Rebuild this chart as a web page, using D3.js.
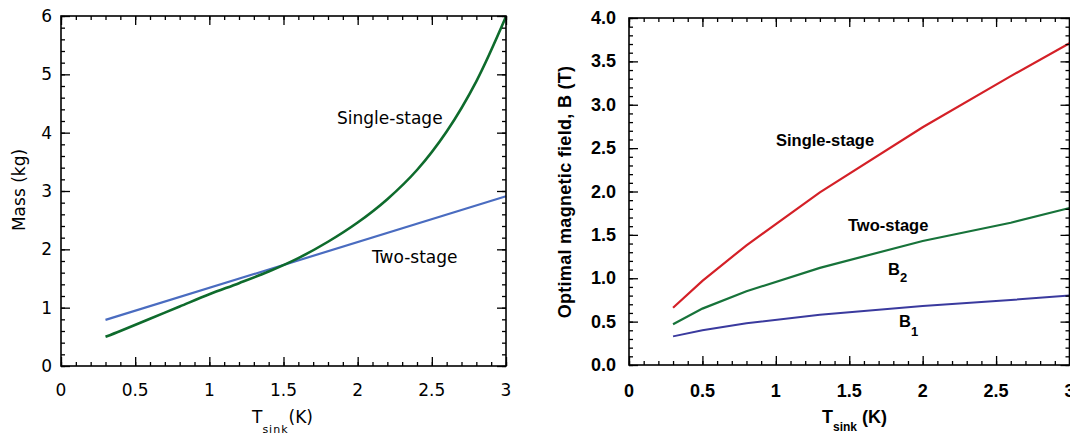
<!DOCTYPE html>
<html>
<head>
<meta charset="utf-8">
<script src="https://cdn.jsdelivr.net/npm/d3@7"></script>
<style>
  body { margin: 0; background: #fff; }
  .minor path, .major path { display: none; }
  .minor line, .major line { stroke: #000; stroke-width: 1.3; }
</style>
</head>
<body>
<svg id="chart" width="1070" height="435"></svg>
<script>
// left panel: mass vs sink temperature
var massT = [0.3, 0.4, 0.6, 0.8, 1.0, 1.2, 1.4, 1.6, 1.8, 2.0, 2.2, 2.4, 2.6, 2.8, 3.0];
var massSingle = [0.50, 0.60, 0.81, 1.02, 1.23, 1.42, 1.62, 1.85, 2.13, 2.46, 2.86, 3.36, 4.02, 4.88, 5.99];
var massTwoT = [0.3, 3.0];
var massTwo = [0.79, 2.91];

// right panel: optimal field vs sink temperature
var fieldT = [0.3, 0.5, 0.8, 1.3, 2.0, 2.6, 3.0];
var fieldSingle = [0.66, 0.97, 1.38, 1.99, 2.74, 3.33, 3.71];
var fieldB2 = [0.47, 0.65, 0.85, 1.12, 1.43, 1.64, 1.81];
var fieldB1 = [0.33, 0.40, 0.48, 0.58, 0.68, 0.75, 0.80];

var xTicks = [0, 0.5, 1, 1.5, 2, 2.5, 3];
var xTickLabels = ["0", "0.5", "1", "1.5", "2", "2.5", "3"];
var massTicks = [0, 1, 2, 3, 4, 5, 6];
var fieldTicks = [0, 0.5, 1, 1.5, 2, 2.5, 3, 3.5, 4];
var fieldTickLabels = ["0.0", "0.5", "1.0", "1.5", "2.0", "2.5", "3.0", "3.5", "4.0"];

var svg = d3.select("#chart");

function steps(lo, hi, step) {
    var out = [];
    var n = Math.round((hi - lo) / step);
    for (var i = 0; i <= n; i++) out.push(+(lo + i * step).toFixed(4));
    return out;
}

// frame with inward ticks on all four sides
function frame(g, x, y, xMinor, yMinor, xMajor, yMajor) {
    var x0 = x.range()[0], x1 = x.range()[1];
    var y0 = y.range()[0], y1 = y.range()[1];
    var defs = [
        [d3.axisBottom, x, "translate(0," + y0 + ")"],
        [d3.axisTop, x, "translate(0," + y1 + ")"],
        [d3.axisLeft, y, "translate(" + x0 + ",0)"],
        [d3.axisRight, y, "translate(" + x1 + ",0)"]
    ];
    defs.forEach(function (d) {
        var isX = d[1] === x;
        g.append("g").attr("class", "minor").attr("transform", d[2])
            .call(d[0](d[1]).tickValues(isX ? xMinor : yMinor).tickSize(-4).tickFormat(""));
        g.append("g").attr("class", "major").attr("transform", d[2])
            .call(d[0](d[1]).tickValues(isX ? xMajor : yMajor).tickSize(-9).tickFormat(""));
    });
    g.append("rect")
        .attr("x", x0).attr("y", y1)
        .attr("width", x1 - x0).attr("height", y0 - y1)
        .attr("fill", "none").attr("stroke", "#000").attr("stroke-width", 1.6);
}

function series(g, x, y, xs, ys, color, w, curve) {
    var line = d3.line()
        .x(function (d, i) { return x(xs[i]); })
        .y(function (d) { return y(d); })
        .curve(curve || d3.curveLinear);
    g.append("path").datum(ys)
        .attr("d", line)
        .attr("fill", "none")
        .attr("stroke", color)
        .attr("stroke-width", w);
}

// ---------- left panel ----------
var xL = d3.scaleLinear().domain([0, 3]).range([61, 506]);
var yL = d3.scaleLinear().domain([0, 6]).range([366, 16]);
var gL = svg.append("g")
    .style("font-family", "'DejaVu Sans', sans-serif")
    .style("font-size", "17px");

series(gL, xL, yL, massTwoT, massTwo, "#4a6cc0", 2.2);
series(gL, xL, yL, massT, massSingle, "#0e6b2c", 2.6, d3.curveCatmullRom);
frame(gL, xL, yL, steps(0, 3, 0.1), steps(0, 6, 0.2), xTicks, massTicks);

gL.selectAll(".xl").data(xTicks).enter().append("text")
    .attr("x", function (d) { return xL(d); })
    .attr("y", 396)
    .attr("text-anchor", "middle")
    .text(function (d, i) { return xTickLabels[i]; });
gL.selectAll(".yl").data(massTicks).enter().append("text")
    .attr("x", 52)
    .attr("y", function (d) { return yL(d) + 6; })
    .attr("text-anchor", "end")
    .text(function (d) { return d; });

var tl = gL.append("text").attr("x", 252).attr("y", 423).attr("fill", "#000");
tl.append("tspan").text("T");
tl.append("tspan").attr("dy", 10).style("font-size", "11px").style("letter-spacing", "1px").text("sink");
tl.append("tspan").attr("dy", -10).text("(K)");

gL.append("text")
    .attr("transform", "translate(25,190) rotate(-90)")
    .attr("text-anchor", "middle")
    .text("Mass (kg)");

gL.append("text").attr("x", 337).attr("y", 124).text("Single-stage");
gL.append("text").attr("x", 372).attr("y", 263).text("Two-stage");

// ---------- right panel ----------
var xR = d3.scaleLinear().domain([0, 3]).range([629, 1069.5]);
var yR = d3.scaleLinear().domain([0, 4]).range([365, 18]);
var gR = svg.append("g")
    .style("font-family", "'Liberation Sans', Arial, sans-serif")
    .style("font-weight", "bold")
    .style("font-size", "18px");

series(gR, xR, yR, fieldT, fieldSingle, "#d42027", 2.2);
series(gR, xR, yR, fieldT, fieldB2, "#17733a", 2.2);
series(gR, xR, yR, fieldT, fieldB1, "#3a3a9e", 2.0);
frame(gR, xR, yR, steps(0, 3, 0.1), steps(0, 4, 0.1), xTicks, fieldTicks);

gR.selectAll(".xl").data(xTicks).enter().append("text")
    .attr("x", function (d) { return xR(d); })
    .attr("y", 397)
    .attr("text-anchor", "middle")
    .text(function (d, i) { return xTickLabels[i]; });
gR.selectAll(".yl").data(fieldTicks).enter().append("text")
    .attr("x", 616)
    .attr("y", function (d) { return yR(d) + 6; })
    .attr("text-anchor", "end")
    .text(function (d, i) { return fieldTickLabels[i]; });

var tr = gR.append("text").attr("x", 822).attr("y", 423);
tr.append("tspan").text("T");
tr.append("tspan").attr("dy", 8).style("font-size", "12px").text("sink");
tr.append("tspan").attr("dy", -8).attr("dx", 5).text("(K)");

gR.append("text")
    .attr("transform", "translate(571,192) rotate(-90)")
    .attr("text-anchor", "middle")
    .style("letter-spacing", "0.3px")
    .text("Optimal magnetic field, B (T)");

var gA = gR.append("g").style("font-size", "16.5px");
gA.append("text").attr("x", 776).attr("y", 146).text("Single-stage");
gA.append("text").attr("x", 848).attr("y", 231).text("Two-stage");
var b2 = gA.append("text").attr("x", 888).attr("y", 275);
b2.append("tspan").text("B");
b2.append("tspan").attr("dy", 7).style("font-size", "13px").text("2");
var b1 = gA.append("text").attr("x", 899).attr("y", 327);
b1.append("tspan").text("B");
b1.append("tspan").attr("dy", 9).style("font-size", "13px").text("1");
</script>
</body>
</html>
